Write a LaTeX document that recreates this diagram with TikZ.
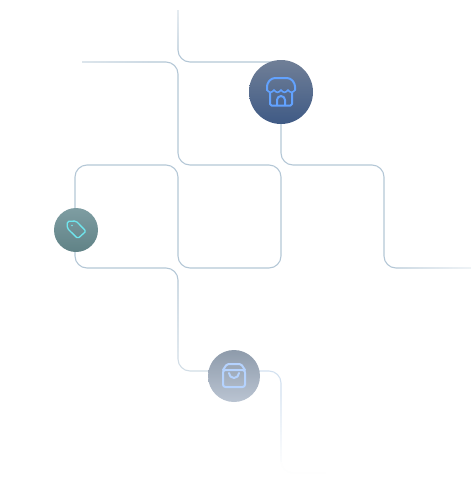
\documentclass[tikz,border=0pt]{standalone}
\usetikzlibrary{backgrounds,fadings}
\definecolor{wire}{HTML}{B4C7D6}
\definecolor{palewire}{HTML}{D3E1F0}
\definecolor{storeicon}{HTML}{62A2FF}
\definecolor{tagicon}{HTML}{6FE6EE}
\definecolor{bagicon}{HTML}{B5D3FF}
\tikzset{
  x=1pt,y=-1pt,
  hub/.style={circle,inner sep=0pt,shading=axis},
  wireline/.style={draw=wire,line width=1.1pt,rounded corners=12pt,line join=round},
  veil/.style={fill=white,draw=none},
  iconline/.style={line width=2pt,line join=round,line cap=round,rounded corners=1.5pt}
}
\begin{document}
\begin{tikzpicture}
\useasboundingbox (0,0) rectangle (471,491);
% hubs
\node[hub,minimum size=64pt,
      top color={rgb,255:red,112;green,127;blue,151},bottom color={rgb,255:red,63;green,90;blue,133}] (store) at (281,92) {};
\node[hub,minimum size=44pt,shading angle=45,
      top color={rgb,255:red,126;green,157;blue,162},bottom color={rgb,255:red,96;green,130;blue,134}] (tag) at (76,230) {};
\node[hub,minimum size=52pt,
      top color={rgb,255:red,142;green,155;blue,171},bottom color={rgb,255:red,186;green,196;blue,210}] (bag) at (234,376) {};
% free ends
\coordinate (topend) at (178,10);
\coordinate (leftend) at (82,62);
\coordinate (rightend) at (471,268);
\coordinate (lowend) at (325,473);
\begin{scope}[on background layer]
  \draw[wireline] (topend) -- (178,62) -- (store.center |- 0,62);
  \draw[wireline] (leftend) -- (178,62) -- (178,165) -- (281,165) -- (281,268) -- (178,268) -- (178,165) -- (75,165) -- (75,268) -- (178,268) -- (178,371) -- (bag.center |- 0,371);
  \draw[wireline] (store.center) -- (281,165) -- (384,165) -- (384,268) -- (rightend);
  \draw[wireline,draw=palewire] (bag.center |- 0,371) -- (281,371) -- (281,473) -- (lowend);
  % fades along the lines
  \fill[veil,path fading=south,fill opacity=.5] (170,8) rectangle (186,50);
  \fill[veil,path fading=east,fill opacity=.3] (80,56) rectangle (150,68);
  \fill[veil,path fading=west,fill opacity=.7] (395,262) rectangle (473,274);
  \fill[veil,path fading=north,fill opacity=.4] (170,274) rectangle (186,360);
  \fill[veil,opacity=.4] (170,360) rectangle (208,380);
  \fill[veil,path fading=north] (272,395) rectangle (292,470);
  \fill[veil,opacity=.97] (272,462) rectangle (330,480);
\end{scope}
% store icon
\begin{scope}[iconline,draw=storeicon]
  \draw[rounded corners=3pt] (267,90) -- (267,83.5) -- (272,78) -- (290,78) -- (295,83.5) -- (295,90);
  \draw[line width=1.6pt,rounded corners=0pt] (267,90) .. controls (269,93) and (272,93) .. (274,90) .. controls (276,93) and (279,93) .. (281,90)
        .. controls (283,93) and (286,93) .. (288,90) .. controls (290,93) and (293,93) .. (295,90);
  \draw (270,93) -- (270,105.5) -- (292,105.5) -- (292,93);
  \draw[rounded corners=0pt] (277,105) -- (277,100) arc[start angle=180,end angle=360,radius=4] -- (285,105);
\end{scope}
% tag icon
\begin{scope}[iconline,draw=tagicon]
  \draw[line width=1.3pt,rounded corners=1.5pt] (67.3,221.4) -- (76,221) -- (86,231.2) -- (77.8,238.6) -- (67.3,228.3) -- cycle;
  \fill[tagicon] (72,225.5) circle (.9);
\end{scope}
% bag icon
\begin{scope}[iconline,draw=bagicon]
  \draw[rounded corners=2.5pt] (223,370) -- (223,387) -- (245,387) -- (245,370) -- cycle;
  \draw (223,370) -- (227,364) -- (241,364) -- (245,370);
  \draw[rounded corners=0pt] (229,373) arc[start angle=180,end angle=0,radius=5];
\end{scope}
\end{tikzpicture}
\end{document}
